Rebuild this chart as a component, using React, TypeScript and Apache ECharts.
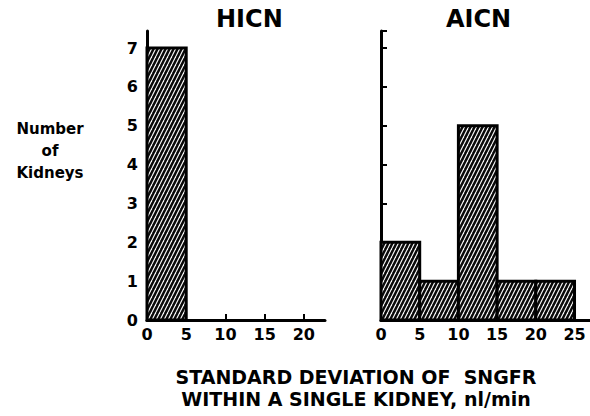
import React, { useEffect, useRef } from "react";
import * as echarts from "echarts";

// Histogram bins: [binStart, binEnd, count]
const hicnBins: number[][] = [[0, 5, 7]];
const aicnBins: number[][] = [
  [0, 5, 2],
  [5, 10, 1],
  [10, 15, 5],
  [15, 20, 1],
  [20, 25, 1],
];
const panelTitles = ["HICN", "AICN"];
const yAxisName = ["Number", "of", "Kidneys"];
const xAxisTitle = ["STANDARD DEVIATION OF  SNGFR", "WITHIN A SINGLE KIDNEY, nl/min"];

const FONT = "DejaVu Sans";

function makePattern(): any {
  const c = document.createElement("canvas");
  c.width = 4;
  c.height = 8;
  const ctx = c.getContext("2d")!;
  ctx.fillStyle = "#0a0a0a";
  ctx.fillRect(0, 0, 4, 8);
  ctx.strokeStyle = "#fff";
  ctx.lineWidth = 1.1;
  for (const dx of [-4, 0, 4]) {
    ctx.beginPath();
    ctx.moveTo(dx, 8);
    ctx.lineTo(dx + 4, 0);
    ctx.stroke();
  }
  return { image: c, repeat: "repeat" };
}

export default function App() {
  const ref = useRef<HTMLDivElement>(null);
  useEffect(() => {
    if (!ref.current) return;
    const chart = echarts.init(ref.current, null, { renderer: "svg" });
    const pattern = makePattern();
    const renderItem = (params: any, api: any) => {
      const p0 = api.coord([api.value(0), api.value(2)]);
      const p1 = api.coord([api.value(1), 0]);
      return {
        type: "rect",
        shape: { x: p0[0], y: p0[1], width: p1[0] - p0[0], height: p1[1] - p0[1] },
        style: { fill: pattern, stroke: "#000", lineWidth: 3 },
      };
    };
    const axisLabel = { color: "#000", fontFamily: FONT, fontWeight: "bold", fontSize: 16 };
    const xAxisCommon = {
      type: "value",
      min: 0,
      interval: 5,
      axisLine: { show: true, lineStyle: { color: "#000", width: 3 } },
      axisTick: { show: true, inside: true, length: 6, lineStyle: { color: "#000", width: 2 } },
      splitLine: { show: false },
      axisLabel: { ...axisLabel, margin: 6, showMaxLabel: false },
    };
    const yAxisCommon = {
      type: "value",
      min: 0,
      max: 7.44,
      interval: 1,
      axisLine: { show: true, lineStyle: { color: "#000", width: 3 } },
      axisTick: { show: true, inside: true, length: 6, lineStyle: { color: "#000", width: 2 } },
      splitLine: { show: false },
    };
    chart.setOption({
      animation: false,
      backgroundColor: "#fff",
      grid: [
        { left: 147, top: 31, width: 178, height: 289 },
        { left: 381, top: 31, width: 209, height: 289 },
      ],
      xAxis: [
        { ...xAxisCommon, gridIndex: 0, max: 22.7 },
        { ...xAxisCommon, gridIndex: 1, max: 27 },
      ],
      yAxis: [
        { ...yAxisCommon, gridIndex: 0, axisLabel: { ...axisLabel, margin: 9, showMaxLabel: false } },
        { ...yAxisCommon, gridIndex: 1, axisLabel: { show: false } },
      ],
      series: [
        { type: "custom", xAxisIndex: 0, yAxisIndex: 0, data: hicnBins, renderItem, encode: { x: [0, 1], y: 2 } },
        { type: "custom", xAxisIndex: 1, yAxisIndex: 1, data: aicnBins, renderItem, encode: { x: [0, 1], y: 2 } },
      ],
      graphic: [
        {
          type: "text", left: 248 - 32, top: 7,
          style: { text: panelTitles[0], font: `bold 24px ${FONT}`, fill: "#000" },
        },
        {
          type: "text", left: 478 - 32, top: 7,
          style: { text: panelTitles[1], font: `bold 24px ${FONT}`, fill: "#000" },
        },
        {
          type: "text", x: 50, y: 118,
          style: {
            text: yAxisName.join("\n"), font: `bold 15px ${FONT}`, fill: "#000",
            align: "center", lineHeight: 22,
          },
        },
        {
          type: "text", x: 356, y: 366,
          style: {
            text: xAxisTitle.join("\n"), font: `bold 19px ${FONT}`, fill: "#000",
            align: "center", lineHeight: 22,
          },
        },
      ],
    });
    return () => chart.dispose();
  }, []);
  return <div ref={ref} style={{ width: 590, height: 416, position: "absolute", left: 0, top: 0 }} />;
}
